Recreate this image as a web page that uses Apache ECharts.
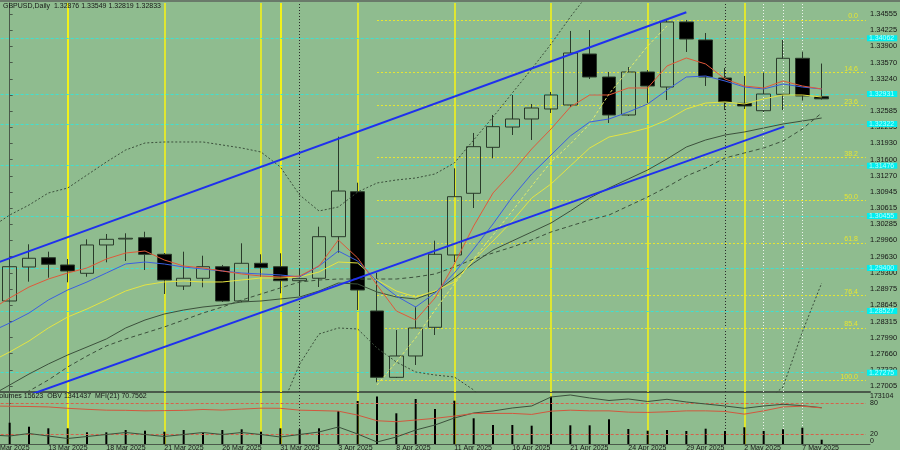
<!DOCTYPE html>
<html><head><meta charset="utf-8">
<script src="https://cdn.jsdelivr.net/npm/echarts@6/dist/echarts.min.js"></script>
<style>html,body{margin:0;padding:0;background:#8fbc8f}#c{width:900px;height:450px}</style>
</head><body><div id="c"></div>
<script>
// ---------- data ----------
const dates = ['11 Mar 2025','12 Mar 2025','13 Mar 2025','14 Mar 2025','17 Mar 2025','18 Mar 2025','19 Mar 2025','20 Mar 2025','21 Mar 2025','24 Mar 2025','25 Mar 2025','26 Mar 2025','27 Mar 2025','28 Mar 2025','31 Mar 2025','1 Apr 2025','2 Apr 2025','3 Apr 2025','4 Apr 2025','7 Apr 2025','8 Apr 2025','9 Apr 2025','10 Apr 2025','11 Apr 2025','14 Apr 2025','15 Apr 2025','16 Apr 2025','17 Apr 2025','18 Apr 2025','21 Apr 2025','22 Apr 2025','23 Apr 2025','24 Apr 2025','25 Apr 2025','28 Apr 2025','29 Apr 2025','30 Apr 2025','1 May 2025','2 May 2025','5 May 2025','6 May 2025','7 May 2025','8 May 2025'];
const leadDate = '10 Mar 2025';
const opens  = [1.28730,1.29420,1.29609,1.29461,1.29292,1.29867,1.29988,1.30015,1.29678,1.29034,1.29191,1.29426,1.28730,1.29495,1.29426,1.29142,1.29191,1.30035,1.30948,1.28527,1.27181,1.27614,1.28196,1.29664,1.30916,1.31849,1.32261,1.32424,1.32627,1.32708,1.33743,1.33276,1.32505,1.33378,1.33073,1.34393,1.34027,1.33256,1.32742,1.32592,1.32925,1.33656,1.32876];
const closes = [1.29426,1.29597,1.29475,1.29339,1.29867,1.29982,1.30003,1.29678,1.29156,1.29191,1.29426,1.28730,1.29495,1.29406,1.29142,1.29183,1.30035,1.30962,1.28953,1.27181,1.27614,1.28182,1.29678,1.30847,1.31862,1.32268,1.32424,1.32647,1.32911,1.33763,1.33276,1.32505,1.33378,1.33094,1.34393,1.34047,1.33276,1.32769,1.32688,1.32931,1.33656,1.32891,1.32833];
const lows   = [1.28704,1.29122,1.29203,1.29109,1.29223,1.29515,1.29542,1.29359,1.28872,1.28953,1.29008,1.28710,1.28704,1.29223,1.28886,1.28852,1.29014,1.29710,1.28547,1.27080,1.27167,1.27431,1.28040,1.29521,1.30617,1.31626,1.32099,1.31998,1.32546,1.32667,1.33236,1.32343,1.32485,1.32749,1.32809,1.33784,1.33094,1.32606,1.32627,1.32566,1.32606,1.32795,1.32819];
const highs  = [1.29629,1.29881,1.29731,1.29582,1.29982,1.30090,1.30104,1.30136,1.29704,1.29731,1.29649,1.29461,1.29901,1.29678,1.29698,1.29400,1.30238,1.32065,1.31131,1.29304,1.28141,1.28614,1.29954,1.31423,1.32140,1.32505,1.32911,1.32728,1.32972,1.34210,1.34230,1.33378,1.33479,1.33418,1.34433,1.34433,1.34169,1.33459,1.33297,1.33364,1.34027,1.33790,1.33549];

// indicator lines, first value belongs to the bar before 11 Mar (index -1)
const maRed    = [1.28547,1.28791,1.29014,1.29176,1.29298,1.29400,1.29582,1.29704,1.29745,1.29562,1.29440,1.29400,1.29339,1.29278,1.29237,1.29217,1.29237,1.29440,1.29968,1.29603,1.29055,1.28527,1.28344,1.28791,1.29481,1.30252,1.30922,1.31348,1.31815,1.32221,1.32667,1.32911,1.32911,1.33053,1.33053,1.33500,1.33662,1.33540,1.33236,1.33094,1.33053,1.33195,1.33094,1.33033];
const maBlue   = [1.28101,1.28283,1.28486,1.28750,1.28953,1.29116,1.29298,1.29481,1.29521,1.29481,1.29420,1.29379,1.29339,1.29298,1.29278,1.29258,1.29217,1.29440,1.29745,1.29542,1.29136,1.28831,1.28608,1.28892,1.29298,1.29785,1.30293,1.30841,1.31308,1.31693,1.32079,1.32363,1.32424,1.32566,1.32728,1.33012,1.33276,1.33296,1.33195,1.33073,1.33033,1.33134,1.33073,1.33033];
const maYellow = [1.27492,1.27695,1.27918,1.28182,1.28405,1.28568,1.28750,1.28933,1.29055,1.29116,1.29136,1.29116,1.29116,1.29156,1.29197,1.29197,1.29217,1.29319,1.29521,1.29501,1.29156,1.28933,1.28811,1.28933,1.29116,1.29562,1.29948,1.30354,1.30820,1.31105,1.31471,1.31835,1.32058,1.32140,1.32241,1.32404,1.32627,1.32748,1.32769,1.32728,1.32830,1.32911,1.32911,1.32870];
const maSlow   = [1.26802,1.27025,1.27248,1.27451,1.27634,1.27796,1.27959,1.28182,1.28344,1.28466,1.28547,1.28608,1.28649,1.28710,1.28730,1.28771,1.28811,1.28933,1.29095,1.29075,1.28913,1.28811,1.28771,1.28913,1.29197,1.29501,1.29765,1.29948,1.30130,1.30313,1.30557,1.30820,1.31023,1.31206,1.31389,1.31612,1.31855,1.31998,1.32099,1.32160,1.32241,1.32322,1.32383,1.32444];
const maDash   = [1.26437,1.26680,1.26903,1.27127,1.27390,1.27614,1.27817,1.27959,1.28080,1.28203,1.28344,1.28486,1.28608,1.28750,1.28872,1.28995,1.29116,1.29156,1.29176,1.29176,1.29176,1.29176,1.29217,1.29278,1.29420,1.29582,1.29704,1.29826,1.29968,1.30130,1.30252,1.30374,1.30475,1.30658,1.30841,1.31044,1.31267,1.31429,1.31632,1.31734,1.31835,1.31977,1.32221,1.32546];
const bbUpper  = [1.30212,1.30475,1.30678,1.30922,1.31023,1.31287,1.31551,1.31795,1.31937,1.31957,1.31957,1.31957,1.31896,1.31835,1.31754,1.31450,1.30881,1.30557,1.30638,1.30942,1.31125,1.31186,1.31226,1.31308,1.31531,1.31998,1.32464,1.32952,1.33439,1.33946,1.34494,1.35001,1.35346,1.35610,1.35854,1.36057,1.36300,1.36422,1.36463,1.36463,1.36422,1.36361,1.36300,1.36260];
const bbLower  = [1.25503,1.25604,1.25707,1.25707,1.25747,1.25707,1.25604,1.25503,1.25462,1.25503,1.25604,1.25707,1.25807,1.25909,1.26112,1.26518,1.27451,1.28060,1.28182,1.28162,1.27776,1.27492,1.27289,1.27228,1.27187,1.26924,1.26518,1.26112,1.25807,1.25503,1.25198,1.24894,1.24691,1.24590,1.24590,1.24691,1.24793,1.24995,1.25503,1.26274,1.26660,1.26984,1.28101,1.29095];
const riseLineStart = 19;
const riseLine = [1.27025,1.27492,1.27979,1.28547,1.29075,1.29582,1.30069,1.30557,1.31064,1.31551,1.31916,1.32322,1.32931,1.33418,1.33905,1.34311];
const channelUpper = [[-1,1.29456],[35.0,1.34589]];
const channelLower = [[-1,1.26542],[40.06,1.32268]];

const fibHigh = 1.34433, fibLow = 1.27116, fibStart = 19;
const fibRatios = [0,14.6,23.6,38.2,50,61.8,76.4,85.4,100];
const cyanLevels = [1.34062,1.32931,1.32322,1.31476,1.30455,1.29400,1.28527,1.27275];
const priceTicks = [1.34555,1.34225,1.33900,1.33570,1.33240,1.32910,1.32585,1.32255,1.31930,1.31600,1.31270,1.30945,1.30615,1.30285,1.29960,1.29630,1.29300,1.28975,1.28645,1.28315,1.27990,1.27660,1.27330,1.27005];
const vYellow = [3,8,13,14,18,23,28,33,38];
const vDark = [15,37];
const vWhite = [39,40,41];

const volumes = [77600,63000,57200,57200,42600,42600,51000,48500,44800,51000,41200,51000,53600,44800,57200,53600,57200,120300,156700,173104,111900,164000,127500,157800,93700,69200,69200,66700,172400,68100,68100,90000,54700,48500,51000,47400,55800,47400,60900,47400,53600,59400,15623];
const obv = [750720,729082,783177,729082,674987,718263,761539,804815,761539,718263,761539,804815,761539,804815,761539,707444,761539,815634,923824,772358,599254,707444,858910,967100,1118566,1226756,1270032,1334946,1378222,1572964,1616240,1551326,1497231,1529688,1475593,1523196,1464774,1421498,1378222,1328454,1378222,1415006,1384713,1341437];
const mfi = [74.5,74,73.5,72.7,70,68,66.3,66,65,65.5,66,67.7,66.5,68.5,70.2,70,66.3,65.5,64.4,56.7,45.6,43.7,47,50.3,54.7,60,60,60,58,64.4,66.3,65,65,62.5,61.9,63.1,65,65,63.8,58.6,65,72.7,74.1,70.7562];
const mfiLevels = [80,20];
const volTicks = [173104,0];

// ---------- chart ----------
const FONT = 'Liberation Sans, Arial, sans-serif';
const cats = [leadDate].concat(dates, ['', '']);
const N = dates.length;
const candleData = cats.map((_, c) => { const i = c - 1; return (i >= 0 && i < N) ? [opens[i], closes[i], lows[i], highs[i]] : ['-','-','-','-']; });
const volData = cats.map((_, c) => { const i = c - 1; return (i >= 0 && i < N) ? volumes[i] : '-'; });
const XR = 44.29; // right end at the price axis
const pairs = (arr, start) => arr.map((v, k) => [k + start, v]);
function ln(arr, start, color, type, width, z, yi, xi) {
  return {type:'line', xAxisIndex: xi === undefined ? 1 : xi, yAxisIndex: yi || 0, data: pairs(arr, start), symbol:'none',
    lineStyle:{color:color, type:type, width:width}, z:z, silent:true, clip:true};
}
function vlines(list, color, type, width) {
  return list.map(i => ({xAxis:i, lineStyle:{color:color, type:type, width:width}}));
}
const verticals = [].concat(
  vYellow.map(i => ({xAxis:i, lineStyle:{color:'#f2f21a', type:'solid', width:(i===3||i===14)?2:1.6}})),
  vlines(vDark, '#2a2a2a', [1,2], 1),
  vlines(vWhite, '#eef4ee', [1,2], 1));
const fibData = fibRatios.map(r => {
  const p = fibHigh - r / 100 * (fibHigh - fibLow);
  return [{coord:[fibStart, p], lineStyle:{color:'#e6e632', type:[2,2], width:1},
           label:{show:true, formatter:r.toFixed(1), position:'insideEndTop', distance:[8,0], color:'#e6e632', fontSize:7, fontFamily:FONT}},
          {coord:[XR, p]}];
});
const cyanData = cyanLevels.map(v => [
  {coord:[-1.5, v], lineStyle:{color:'#40e0d0', type:[3,2], width:1},
   label:{show:true, position:'end', distance:1, formatter:v.toFixed(5), color:'#b8ffff', backgroundColor:'#00eeee',
          fontSize:7, fontFamily:FONT, padding:[0,3,0,2], lineHeight:6, height:6}},
  {coord:[XR, v]}]);
const last = closes[N - 1];
const priceLabel = [[
  {coord:[XR - 0.1, last], lineStyle:{width:0, opacity:0},
   label:{show:true, position:'end', distance:1, formatter:last.toFixed(5), color:'#ffffff', backgroundColor:'#000000',
          fontSize:7, fontFamily:FONT, padding:[0,3,0,2], lineHeight:6, height:6}},
  {coord:[XR, last]}]];

const axisCol = '#4a5a4a', txtCol = '#161616';
const option = {
  animation:false,
  backgroundColor:'#8fbc8f',
  textStyle:{fontFamily:FONT},
  tooltip:{show:false},
  title:[
    {text:'GBPUSD,Daily  ' + [opens[N-1], highs[N-1], lows[N-1], closes[N-1]].map(v => v.toFixed(5)).join(' '),
     left:3, top:3, padding:0, textStyle:{fontSize:7, color:txtCol, fontWeight:'normal', fontFamily:FONT}},
    {text:'Volumes ' + volumes[N-1] + '  OBV ' + obv[obv.length-1] + '  MFI(21) ' + mfi[mfi.length-1].toFixed(4),
     left:-5, top:393, padding:0, textStyle:{fontSize:7, color:txtCol, fontWeight:'normal', fontFamily:FONT}}
  ],
  graphic:[{type:'rect', shape:{x:0, y:0, width:900, height:2}, style:{fill:'#6a7a6a'}, z:100}],
  grid:[
    {left:-19.33, top:3, width:889.33, height:389, containLabel:false, outerBoundsMode:'none'},
    {left:-19.33, top:393, width:889.33, height:51, containLabel:false, outerBoundsMode:'none'}
  ],
  xAxis:[
    {type:'category', gridIndex:0, data:cats, boundaryGap:true, axisLabel:{show:false}, axisTick:{show:false},
     axisLine:{show:true, lineStyle:{color:axisCol, width:2}}, splitLine:{show:false}},
    {type:'value', gridIndex:0, min:-1.5, max:44.5, show:false},
    {type:'category', gridIndex:1, data:cats, boundaryGap:true, axisTick:{show:false},
     axisLine:{show:true, lineStyle:{color:axisCol, width:1}}, splitLine:{show:false},
     axisLabel:{interval:2, align:'left', fontSize:7, color:txtCol, margin:1, fontFamily:FONT}},
    {type:'value', gridIndex:1, min:-1.5, max:44.5, show:false}
  ],
  yAxis:[
    {type:'value', gridIndex:0, position:'right', offset:-4, min:1.26883, max:1.34778, splitLine:{show:false},
     axisLine:{show:true, lineStyle:{color:axisCol}},
     axisTick:{show:true, length:3, customValues:priceTicks, lineStyle:{color:axisCol}},
     axisLabel:{customValues:priceTicks, formatter:v => v.toFixed(5), fontSize:7.5, color:txtCol, margin:4, fontFamily:FONT}},
    {type:'value', gridIndex:1, position:'right', offset:-4, min:0, max:100, splitLine:{show:false},
     axisLine:{show:true, lineStyle:{color:axisCol}},
     axisTick:{show:true, length:3, customValues:mfiLevels, lineStyle:{color:axisCol}},
     axisLabel:{customValues:mfiLevels, fontSize:7, color:txtCol, margin:4, fontFamily:FONT}},
    {type:'value', gridIndex:1, position:'right', offset:-4, min:0, max:185860, splitLine:{show:false},
     axisLine:{show:false}, axisTick:{show:false},
     axisLabel:{customValues:volTicks, fontSize:7, color:txtCol, margin:4, fontFamily:FONT,
       formatter:v => v === 0 ? '{u|0}' : String(v), rich:{u:{fontSize:7, padding:[0,0,6,0]}}}},
    {type:'value', gridIndex:1, min:556000, max:1659500, show:false}
  ],
  series:[
    {type:'line', xAxisIndex:1, yAxisIndex:0, data:[[-5, 1.3]], symbol:'none', z:1, silent:true,
     markLine:{silent:true, symbol:['none','none'], animation:false, z:1, label:{show:false}, data:verticals}},
    {type:'line', xAxisIndex:1, yAxisIndex:0, data:[[-5, 1.3]], symbol:'none', z:1, silent:true,
     markLine:{silent:true, symbol:['none','none'], animation:false, z:1, data:cyanData.concat(fibData)}},
    {type:'candlestick', xAxisIndex:0, yAxisIndex:0, data:candleData, barWidth:14, z:3, silent:true,
     itemStyle:{color:'rgba(0,0,0,0)', color0:'#000000', borderColor:'#2a3a2a', borderColor0:'#2a3a2a', borderWidth:1}},
    ln(bbUpper, -1, '#3c503c', [2,2], 1, 4),
    ln(bbLower, -1, '#3c503c', [2,2], 1, 4),
    ln(maDash, -1, '#3c503c', [4,3], 1, 4),
    ln(maSlow, -1, '#3c503c', 'solid', 1, 4),
    ln(riseLine, riseLineStart, '#e2ec6a', [3,2], 1, 4),
    ln(maYellow, -1, '#e4e442', 'solid', 1, 5),
    ln(maBlue, -1, '#3b5fe0', 'solid', 1, 5),
    ln(maRed, -1, '#e0593a', 'solid', 1, 5),
    {type:'line', xAxisIndex:1, yAxisIndex:0, data:channelUpper, symbol:'none', lineStyle:{color:'#1f30ee', width:2}, z:6, silent:true},
    {type:'line', xAxisIndex:1, yAxisIndex:0, data:channelLower, symbol:'none', lineStyle:{color:'#1f30ee', width:2}, z:6, silent:true},
    {type:'line', xAxisIndex:1, yAxisIndex:0, data:[[-5, 1.3]], symbol:'none', z:10, silent:true,
     markLine:{silent:true, symbol:['none','none'], animation:false, z:10, data:priceLabel}},
    // lower panel
    {type:'line', xAxisIndex:3, yAxisIndex:1, data:[[-5, 50]], symbol:'none', z:1, silent:true,
     markLine:{silent:true, symbol:['none','none'], animation:false, z:1, label:{show:false}, data:verticals}},
    {type:'bar', xAxisIndex:2, yAxisIndex:2, data:volData, barWidth:2, itemStyle:{color:'#000000'}, z:2, silent:true},
    ln(obv, -1, '#3c503c', 'solid', 1, 4, 3, 3),
    Object.assign(ln(mfi, -1, '#d2573e', 'solid', 1, 5, 1, 3), {
      markLine:{silent:true, symbol:['none','none'], animation:false, z:3, label:{show:false},
        data:mfiLevels.map(v => [{coord:[-1.5, v], lineStyle:{color:'#d8604a', type:[3,2], width:1}}, {coord:[XR, v]}])}})
  ]
};
const chart = echarts.init(document.getElementById('c'));
chart.setOption(option);
</script></body></html>
